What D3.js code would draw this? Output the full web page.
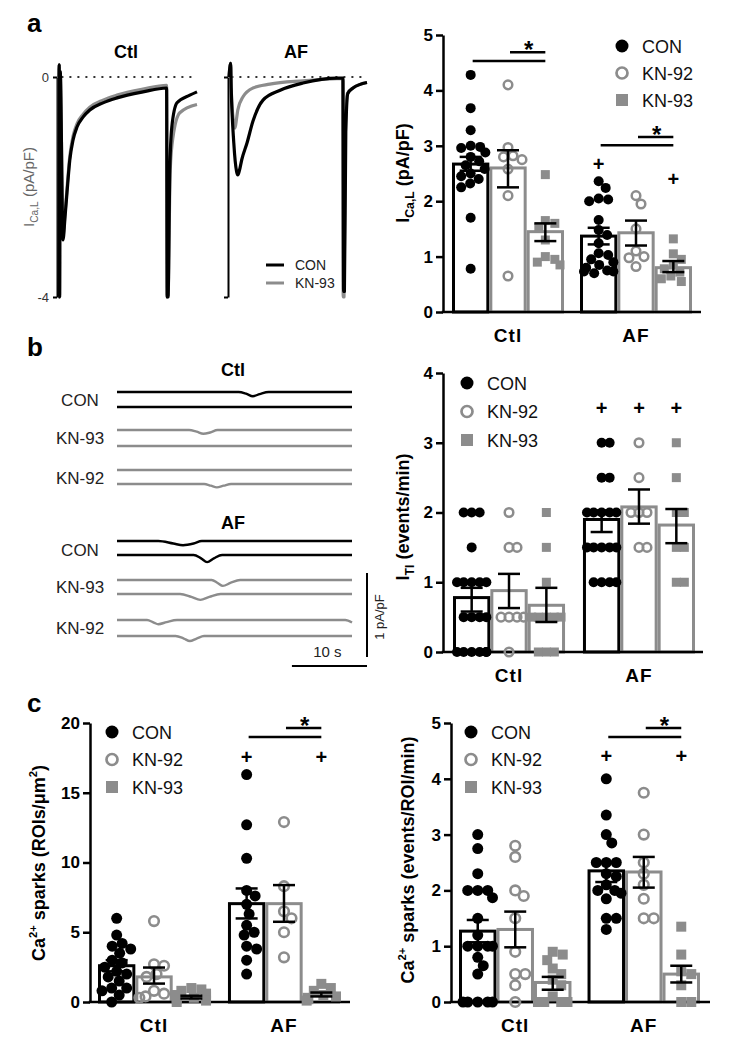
<!DOCTYPE html>
<html><head><meta charset="utf-8">
<script src="https://cdn.jsdelivr.net/npm/d3@7"></script>
<style>
body{margin:0;background:#fff}
svg{display:block}
text{font-family:"Liberation Sans",Arial,sans-serif}
</style>
</head><body>
<svg id="fig" width="730" height="1045"></svg>
<script>
// ---------------- DATA ----------------
const seriesNames = ["CON", "KN-92", "KN-93"];
const groups = ["Ctl", "AF"];

// Panel a, left: ICa,L traces  [time (ms), current (pA/pF)]
const aTraceCtlCON = [[0,0],[0.5,0.22],[1.5,-4.0],[3,0.1],[10,-2.96],[15,-2.55],[20,-2.1],[27,-1.51],[35,-1.15],[45,-0.91],[60,-0.73],[77,-0.6],[110,-0.47],[145,-0.38],[210,-0.27],[269,-0.2],[270.5,-4.0],[272.5,-4.0],[277,-1.7],[282,-0.91],[295,-0.47],[327,-0.33],[345,-0.27]];
const aTraceCtlKN93 = [[0,0],[0.5,0.22],[1.5,-4.0],[3,0.1],[10,-2.9],[15,-2.48],[20,-2.03],[27,-1.44],[35,-1.08],[45,-0.85],[60,-0.68],[77,-0.55],[110,-0.42],[145,-0.33],[210,-0.22],[269,-0.15],[270.5,-4.0],[272.5,-4.0],[278,-1.7],[285,-1.09],[302,-0.65],[345,-0.5]];
const aTraceAFCON = [[0,0],[4,0.25],[5.5,-0.2],[12,-1.2],[19,-1.72],[22,-1.78],[26,-1.7],[32,-1.5],[45,-1.2],[60,-0.8],[85,-0.42],[128,-0.24],[185,-0.11],[270,-0.02],[285,-0.02],[286.5,-3.9],[288.5,-3.9],[292,-1.0],[297,-0.3],[310,-0.2],[345,-0.1]];
const aTraceAFKN93 = [[0,0],[4,0.25],[5.5,-0.2],[11,-0.8],[15,-0.93],[19,-0.75],[22,-0.6],[35,-0.36],[60,-0.2],[102,-0.13],[185,-0.07],[270,-0.03],[284,-0.03],[285.5,-4.0],[287.5,-4.0],[291,-1.0],[296,-0.3],[310,-0.2],[345,-0.1]];
const aTraceTicks = [0, -4];

// Panel a, right: ICa,L (pA/pF)
const aCtlCON  = [4.28,3.68,3.28,3.0,2.98,2.96,2.88,2.8,2.72,2.65,2.58,2.5,2.45,2.4,2.32,2.25,1.7,0.78];
const aCtlKN92 = [4.1,2.97,2.82,2.8,2.75,2.58,2.1,0.65];
const aCtlKN93 = [2.48,1.65,1.6,1.52,1.3,1.0,0.95,0.9,0.85];
const aAFCON   = [2.36,2.24,2.03,2.0,2.05,1.66,1.48,1.39,1.24,1.06,1.03,0.95,0.9,0.85,0.8,0.75,0.73,0.73,0.7];
const aAFKN92  = [2.1,1.95,1.5,1.1,1.0,0.98,0.82];
const aAFKN93  = [1.32,1.05,0.95,0.85,0.78,0.72,0.65,0.6,0.55];
const aMeanCtl = [2.67,2.60,1.45];
const aMeanAF  = [1.37,1.43,0.80];
const aErrCtl  = [[2.55,2.80],[2.25,2.92],[1.28,1.60]];
const aErrAF   = [[1.22,1.52],[1.20,1.65],[0.72,0.92]];
const aTicks   = [0,1,2,3,4,5];

// Panel b, left: ITI traces [time (s), current (pA/pF)]
const bCtlCON1  = [[0,0],[16.2,0],[17.2,-0.02],[18.1,-0.05],[19.0,-0.025],[20.2,0],[31.3,0]];
const bCtlCON2  = [[0,0],[31.3,0]];
const bCtlKN93a = [[0,0],[9.6,0],[10.6,-0.02],[11.5,-0.045],[12.4,-0.03],[13.4,0],[31.3,0]];
const bCtlKN93b = [[0,0],[31.3,0]];
const bCtlKN92a = [[0,0],[31.3,0]];
const bCtlKN92b = [[0,0],[11.6,0],[12.5,-0.02],[13.3,-0.04],[14.2,-0.02],[15.2,0],[31.3,0]];
const bAFCON1   = [[0,0],[5.5,0],[7.5,-0.03],[8.8,-0.05],[10.2,-0.03],[11.3,0],[31.3,0]];
const bAFCON2   = [[0,0],[10.2,0],[11.2,-0.04],[12.0,-0.085],[12.9,-0.04],[14.0,0],[31.3,0]];
const bAFKN93a  = [[0,0],[12.6,0],[13.4,-0.035],[14.1,-0.07],[15.1,-0.035],[16.4,0],[31.3,0]];
const bAFKN93b  = [[0,0],[8.4,0],[9.9,-0.035],[11.1,-0.07],[12.3,-0.035],[13.8,0],[31.3,0]];
const bAFKN92a  = [[0,0],[4.0,0],[4.9,-0.03],[5.5,-0.05],[6.6,-0.025],[8.0,0],[30.4,0],[31.3,-0.03]];
const bAFKN92b  = [[0,0],[7.8,0],[8.9,-0.03],[9.7,-0.06],[10.6,-0.03],[11.6,0],[31.3,0]];
const bScaleTime = 10;   // s
const bScaleCurrent = 1; // pA/pF

// Panel b, right: ITI (events/min)
const bCtlCON  = [2,2,2,1.5,1,1,1,1,1,0.5,0.5,0.5,0.5,0,0,0,0,0,0];
const bCtlKN92 = [2,1.5,1.5,0.5,0.5,0.5,0.5,0];
const bCtlKN93 = [2,1.5,1,0.5,0.5,0.5,0.5,0.5,0,0,0];
const bAFCON   = [3,3,2.5,2.5,2,2,2,2,2,1.5,1.5,1.5,1.5,1.5,1,1,1,1];
const bAFKN92  = [3,2.5,2,2,2,1.5,1.5];
const bAFKN93  = [3,2.5,2,2,1.5,1.5,1,1];
const bMeanCtl = [0.78,0.88,0.67];
const bMeanAF  = [1.90,2.08,1.82];
const bErrCtl  = [[0.58,0.92],[0.63,1.12],[0.43,0.92]];
const bErrAF   = [[1.72,2.03],[1.84,2.33],[1.56,2.05]];
const bTicks   = [0,1,2,3,4];

// Panel c, left: Ca2+ sparks (ROIs/um2)
const cLCtlCON  = [6.0,4.8,4.2,4.0,3.8,3.5,3.0,2.8,2.5,2.2,2.0,1.8,1.5,1.0,1.0,0.8,0.5,0.0];
const cLCtlKN92 = [5.8,2.7,2.6,2.0,1.8,0.8,0.6,0.4,0.3];
const cLCtlKN93 = [1.0,0.9,0.8,0.6,0.5,0.4,0.3,0.2,0.1,0.0];
const cLAFCON   = [16.3,12.7,10.3,8.0,7.6,7.0,6.3,5.5,5.0,4.8,4.0,3.8,3.0,2.0];
const cLAFKN92  = [12.9,8.3,6.5,6.0,5.0,3.2];
const cLAFKN93  = [1.3,1.0,0.8,0.5,0.4,0.2,0.1];
const cLMeanCtl = [2.60,1.80,0.35];
const cLMeanAF  = [7.05,7.05,0.55];
const cLErrCtl  = [[2.2,3.0],[1.32,2.47],[0.25,0.45]];
const cLErrAF   = [[5.99,8.14],[5.75,8.38],[0.40,0.68]];
const cLTicks   = [0,5,10,15,20];

// Panel c, right: Ca2+ sparks (events/ROI/min)
const cRCtlCON  = [3.0,2.75,2.3,2.0,2.0,2.0,1.87,1.5,1.2,1.0,1.0,1.0,1.0,0.8,0.65,0.5,0,0,0,0,0];
const cRCtlKN92 = [2.8,2.6,2.0,1.9,1.5,0.9,0.5,0.5,0.3,0.0];
const cRCtlKN93 = [0.9,0.85,0.75,0.6,0.5,0.4,0.3,0.1,0,0,0,0];
const cRAFCON   = [4.0,3.35,3.0,2.85,2.5,2.5,2.5,2.3,2.25,2.1,2.0,2.0,1.95,1.85,1.5,1.5,1.3];
const cRAFKN92  = [3.75,3.0,2.5,2.3,2.1,1.85,1.5,1.5];
const cRAFKN93  = [1.35,0.85,0.55,0.5,0.3,0,0];
const cRMeanCtl = [1.27,1.30,0.35];
const cRMeanAF  = [2.35,2.33,0.50];
const cRErrCtl  = [[1.07,1.47],[0.98,1.62],[0.22,0.45]];
const cRErrAF   = [[2.15,2.50],[2.05,2.60],[0.35,0.65]];
const cRTicks   = [0,1,2,3,4,5];

// significance annotations: [group, fromSeries, toSeries, level, mark]
const aSig  = [["Ctl",0,2,4.53],["Ctl",1,2,4.69,"*"],["AF",0,2,3.01],["AF",1,2,3.16,"*"]];
const aPlus = [["AF",0,2.67],["AF",2,2.40]];
const bSig  = [];
const bPlus = [["AF",0,3.5],["AF",1,3.5],["AF",2,3.5]];
const cLSig  = [["AF",0,2,19.0],["AF",1,2,19.64,"*"]];
const cLPlus = [["AF",0,17.56],["AF",2,17.56]];
const cRSig  = [["AF",0,2,4.75],["AF",1,2,4.91,"*"]];
const cRPlus = [["AF",0,4.4],["AF",2,4.4]];

// ---------------- DRAWING ----------------
const BLACK = "#000", GREY = "#8c8c8c";
const FONT = "Liberation Sans, Arial, sans-serif";
const svg = d3.select("#fig");

function richText(sel, parts, size) {
  parts.forEach(p => {
    const t = sel.append("tspan").text(p.t);
    if (p.sub) t.attr("font-size", size*0.68).attr("dy", size*0.28);
    else if (p.sup) t.attr("font-size", size*0.62).attr("dy", -size*0.42);
    if (p.back) t.attr("dy", p.back);
  });
}
function label(x, y, txt, opts) {
  const t = svg.append("text").attr("x", x).attr("y", y).text(txt)
    .attr("font-size", opts.size).attr("font-weight", opts.bold ? "bold" : "normal")
    .attr("text-anchor", opts.anchor || "start").attr("fill", opts.fill || "#000");
  if (opts.ls) t.attr("letter-spacing", opts.ls);
  return t;
}

// panel letters
label(27, 32, "a", {size: 26, bold: true});
label(27, 356, "b", {size: 26, bold: true});
label(27, 712, "c", {size: 26, bold: true});

// ---------- panel a traces ----------
(function() {
  const ys = d3.scaleLinear().domain([-4, 0]).range([297, 77]);
  const blocks = [
    {title: "Ctl", xr: [59, 197], axisX: 57, traces: [aTraceCtlKN93, aTraceCtlCON], labels: true},
    {title: "AF",  xr: [229, 367], axisX: 228, traces: [aTraceAFKN93, aTraceAFCON], labels: false}
  ];
  blocks.forEach(b => {
    const xs = d3.scaleLinear().domain([0, 345]).range(b.xr);
    const g = svg.append("g");
    g.append("g").attr("transform", `translate(${b.axisX},0)`)
      .call(d3.axisLeft(ys).tickValues(aTraceTicks).tickSize(4).tickSizeOuter(0).tickPadding(4)
        .tickFormat(d => b.labels ? (d === 0 ? "0" : "-4") : ""))
      .call(s => {
        s.select(".domain").attr("stroke", "#000").attr("stroke-width", 2);
        s.selectAll(".tick line").attr("stroke", "#000").attr("stroke-width", 2);
        s.selectAll("text").attr("font-size", 13).attr("font-family", FONT).attr("fill", "#333");
      });
    g.append("line").attr("x1", xs(6)).attr("x2", xs(345)).attr("y1", ys(0)).attr("y2", ys(0))
      .attr("stroke", "#333").attr("stroke-width", 2).attr("stroke-dasharray", "2,6");
    const line = d3.line().x(d => xs(d[0])).y(d => ys(d[1])).curve(d3.curveMonotoneX);
    b.traces.forEach((tr, i) => {
      g.append("path").attr("d", line(tr)).attr("fill", "none")
        .attr("stroke", i === 0 ? GREY : BLACK).attr("stroke-width", 3.2)
        .attr("stroke-linejoin", "round");
    });
    label((b.xr[0] + b.xr[1]) / 2 - 2, 58, b.title, {size: 18, bold: true, anchor: "middle"});
  });
  const yl = svg.append("text").attr("transform", "translate(34,187) rotate(-90)")
    .attr("text-anchor", "middle").attr("font-size", 15).attr("fill", "#666");
  richText(yl, [{t: "I"}, {t: "Ca,L", sub: true}, {t: " (pA/pF)", back: -15*0.28}], 15);
  [["CON", BLACK], ["KN-93", GREY]].forEach((d, i) => {
    const y = 265 + i * 18;
    svg.append("line").attr("x1", 266).attr("x2", 284).attr("y1", y).attr("y2", y)
      .attr("stroke", d[1]).attr("stroke-width", 3);
    label(295, y + 5, d[0], {size: 14, fill: "#222"});
  });
})();

// ---------- panel b traces ----------
(function() {
  const xs = d3.scaleLinear().domain([0, 31.3]).range([117, 352]);
  const pxPerUnit = 84;
  const rows = [
    [bCtlCON1, 392, BLACK], [bCtlCON2, 407, BLACK],
    [bCtlKN93a, 430, GREY], [bCtlKN93b, 446, GREY],
    [bCtlKN92a, 470, GREY], [bCtlKN92b, 484, GREY],
    [bAFCON1, 541, BLACK], [bAFCON2, 555, BLACK],
    [bAFKN93a, 580, GREY], [bAFKN93b, 594, GREY],
    [bAFKN92a, 620, GREY], [bAFKN92b, 636, GREY]
  ];
  rows.forEach(r => {
    const ys = d3.scaleLinear().domain([-1, 0]).range([r[1] + pxPerUnit, r[1]]);
    const line = d3.line().x(d => xs(d[0])).y(d => ys(d[1])).curve(d3.curveMonotoneX);
    svg.append("path").attr("d", line(r[0])).attr("fill", "none")
      .attr("stroke", r[2]).attr("stroke-width", 2.4);
  });
  const names = [["CON", 400], ["KN-93", 438], ["KN-92", 478], ["CON", 550], ["KN-93", 587], ["KN-92", 628]];
  names.forEach(n => label(80, n[1] + 6, n[0], {size: 17, anchor: "middle", fill: "#222"}));
  label(233, 376, "Ctl", {size: 18, bold: true, anchor: "middle"});
  label(233, 529, "AF", {size: 18, bold: true, anchor: "middle"});
  const sbX = 367, sbY = 666;
  const sbW = xs(bScaleTime) - xs(0);
  svg.append("line").attr("x1", sbX - sbW).attr("x2", sbX).attr("y1", sbY).attr("y2", sbY)
    .attr("stroke", "#000").attr("stroke-width", 2);
  svg.append("line").attr("x1", sbX).attr("x2", sbX).attr("y1", 657).attr("y2", 657 - bScaleCurrent * pxPerUnit)
    .attr("stroke", "#000").attr("stroke-width", 2);
  label(sbX - sbW / 2 - 2, 657, bScaleTime + " s", {size: 15, anchor: "middle", fill: "#222"});
  svg.append("text").attr("transform", "translate(384,617) rotate(-90)").attr("text-anchor", "middle")
    .attr("font-size", 13).attr("fill", "#222").text(bScaleCurrent + " pA/pF");
})();

// ---------- bar panels ----------
function swarmOffsets(vals, y, minDist, maxHalf) {
  const items = vals.map((v, i) => ({i, py: y(v)}));
  const order = items.slice().sort((a, b) => a.py - b.py);
  const placed = [];
  order.forEach(p => {
    let best = 0;
    for (let k = 0; k < 400; k++) {
      const cands = k === 0 ? [0] : [k * 0.5, -k * 0.5];
      let found = false;
      for (const c of cands) {
        if (placed.every(q => Math.hypot(q.x - c, q.py - p.py) >= minDist)) { best = c; found = true; break; }
      }
      if (found) break;
    }
    p.x = Math.max(-maxHalf, Math.min(maxHalf, best)); placed.push(p);
  });
  return items.map(p => p.x);
}

function marker(sel, si, cx, cy, m) {
  if (si === 0) sel.append("circle").attr("cx", cx).attr("cy", cy).attr("r", m.r).attr("fill", BLACK);
  else if (si === 1) sel.append("circle").attr("cx", cx).attr("cy", cy).attr("r", m.or)
    .attr("fill", "none").attr("stroke", GREY).attr("stroke-width", m.ow);
  else sel.append("rect").attr("x", cx - m.sq / 2).attr("y", cy - m.sq / 2).attr("width", m.sq).attr("height", m.sq)
    .attr("fill", GREY);
}

function barPanel(cfg) {
  const g = svg.append("g");
  const y = d3.scaleLinear().domain([0, cfg.max]).range([cfg.y0, cfg.yTop]);
  const x0 = d3.scaleBand().domain(groups).range([cfg.bandStart, cfg.bandEnd]).paddingInner(cfg.padInner).paddingOuter(0);
  const x1 = d3.scaleBand().domain(seriesNames).range([0, x0.bandwidth()]).padding(0);
  const cx = (gr, si) => x0(gr) + x1(seriesNames[si]) + x1.bandwidth() / 2;
  const sw = 3;
  const rows = [];
  groups.forEach((gr, gi) => seriesNames.forEach((s, si) => rows.push({
    gr, si, mean: cfg.means[gi][si], err: cfg.errs[gi][si], pts: cfg.pts[gi][si]
  })));
  g.selectAll("rect.bar").data(rows).join("rect").attr("class", "bar")
    .attr("x", d => x0(d.gr) + x1(seriesNames[d.si]) + sw / 2)
    .attr("width", x1.bandwidth() - sw)
    .attr("y", d => y(d.mean))
    .attr("height", d => y(0) - y(d.mean))
    .attr("fill", "#fff").attr("stroke", d => d.si === 0 ? BLACK : GREY).attr("stroke-width", sw);
  g.append("g").attr("transform", `translate(${cfg.axisX},0)`)
    .call(d3.axisLeft(y).tickValues(cfg.ticks).tickSize(7).tickSizeOuter(0).tickPadding(3).tickFormat(d3.format("d")))
    .call(s => {
      s.select(".domain").attr("stroke", "#000").attr("stroke-width", 2.5);
      s.selectAll(".tick line").attr("stroke", "#000").attr("stroke-width", 2.5);
      s.selectAll("text").attr("font-size", 17).attr("font-weight", "bold").attr("font-family", FONT).attr("fill", "#000");
    });
  g.append("line").attr("x1", cfg.axisX - 1.25).attr("x2", cfg.xEnd).attr("y1", y(0)).attr("y2", y(0))
    .attr("stroke", "#000").attr("stroke-width", 2.5);
  groups.forEach(gr => {
    label(x0(gr) + x0.bandwidth() / 2, cfg.y0 + 30, gr, {size: 19, bold: true, anchor: "middle", ls: 1});
  });
  const maxHalf = x1.bandwidth() / 2 - 4;
  rows.forEach(d => {
    const offs = swarmOffsets(d.pts, y, cfg.minDist, maxHalf);
    d.pts.forEach((v, i) => marker(g, d.si, cx(d.gr, d.si) + offs[i], y(v), cfg.m));
  });
  rows.forEach(d => {
    const c = cx(d.gr, d.si), hw = 11;
    const eb = g.append("g").attr("stroke", "#000").attr("stroke-width", 2.5);
    eb.append("line").attr("x1", c).attr("x2", c).attr("y1", y(d.err[0])).attr("y2", y(d.err[1]));
    eb.append("line").attr("x1", c - hw).attr("x2", c + hw).attr("y1", y(d.err[0])).attr("y2", y(d.err[0]));
    eb.append("line").attr("x1", c - hw).attr("x2", c + hw).attr("y1", y(d.err[1])).attr("y2", y(d.err[1]));
  });
  cfg.sig.forEach(s => {
    g.append("line").attr("x1", cx(s[0], s[1]) + 2).attr("x2", cx(s[0], s[2])).attr("y1", y(s[3])).attr("y2", y(s[3]))
      .attr("stroke", "#000").attr("stroke-width", 2.5);
    if (s[4]) label((cx(s[0], s[1]) + cx(s[0], s[2])) / 2 + 2, y(s[3]) + 6, s[4], {size: 24, bold: true, anchor: "middle"});
  });
  cfg.plus.forEach(p => label(cx(p[0], p[1]), y(p[2]) + 7, "+", {size: 20, bold: true, anchor: "middle"}));
  seriesNames.forEach((n, i) => {
    const ly = cfg.leg[1] + i * cfg.legStep;
    marker(g, i, cfg.leg[0], ly, cfg.lm);
    label(cfg.leg[0] + 20, ly + 6.5, n, {size: 18, fill: "#111"});
  });
  const yl = svg.append("text").attr("transform", `translate(${cfg.yl[0]},${cfg.yl[1]}) rotate(-90)`)
    .attr("text-anchor", "middle").attr("font-size", 18).attr("font-weight", "bold").attr("fill", "#000");
  richText(yl, cfg.ylabel, 18);
}

const mA = {r: 5, or: 4.3, ow: 2.5, sq: 9};
const mC = {r: 5.5, or: 4.8, ow: 2.6, sq: 10};
const legM = {r: 6.5, or: 5.5, ow: 2.7, sq: 12};

barPanel({
  axisX: 443, xEnd: 701, y0: 312, yTop: 35, max: 5, ticks: aTicks,
  bandStart: 452, bandEnd: 692, padInner: 0.125,
  means: [aMeanCtl, aMeanAF], errs: [aErrCtl, aErrAF],
  pts: [[aCtlCON, aCtlKN92, aCtlKN93], [aAFCON, aAFKN92, aAFKN93]],
  sig: aSig, plus: aPlus, m: mA, lm: legM, minDist: 9.5,
  leg: [622, 46], legStep: 27, yl: [409, 173],
  ylabel: [{t: "I"}, {t: "Ca,L", sub: true}, {t: " (pA/pF)", back: -18*0.28}]
});
barPanel({
  axisX: 443, xEnd: 703, y0: 652, yTop: 373, max: 4, ticks: bTicks,
  bandStart: 453, bandEnd: 695, padInner: 0.138,
  means: [bMeanCtl, bMeanAF], errs: [bErrCtl, bErrAF],
  pts: [[bCtlCON, bCtlKN92, bCtlKN93], [bAFCON, bAFKN92, bAFKN93]],
  sig: bSig, plus: bPlus, m: mA, lm: legM, minDist: 8,
  leg: [467, 383], legStep: 28.5, yl: [409, 517],
  ylabel: [{t: "I"}, {t: "TI", sub: true}, {t: " (events/min)", back: -18*0.28}]
});
barPanel({
  axisX: 90, xEnd: 350, y0: 1002, yTop: 723, max: 20, ticks: cLTicks,
  bandStart: 98, bandEnd: 340, padInner: 0.138,
  means: [cLMeanCtl, cLMeanAF], errs: [cLErrCtl, cLErrAF],
  pts: [[cLCtlCON, cLCtlKN92, cLCtlKN93], [cLAFCON, cLAFKN92, cLAFKN93]],
  sig: cLSig, plus: cLPlus, m: mC, lm: legM, minDist: 10,
  leg: [112, 732], legStep: 27.5, yl: [45, 863],
  ylabel: [{t: "Ca"}, {t: "2+", sup: true}, {t: " sparks (ROIs/\u03bcm", back: 18*0.42}, {t: "2", sup: true}, {t: ")", back: 18*0.42}]
});
barPanel({
  axisX: 451, xEnd: 710, y0: 1002, yTop: 723, max: 5, ticks: cRTicks,
  bandStart: 459, bandEnd: 700, padInner: 0.125,
  means: [cRMeanCtl, cRMeanAF], errs: [cRErrCtl, cRErrAF],
  pts: [[cRCtlCON, cRCtlKN92, cRCtlKN93], [cRAFCON, cRAFKN92, cRAFKN93]],
  sig: cRSig, plus: cRPlus, m: mC, lm: legM, minDist: 10,
  leg: [471, 732], legStep: 27.5, yl: [414, 860],
  ylabel: [{t: "Ca"}, {t: "2+", sup: true}, {t: " sparks (events/ROI/min)", back: 18*0.42}]
});
</script>
</body></html>
